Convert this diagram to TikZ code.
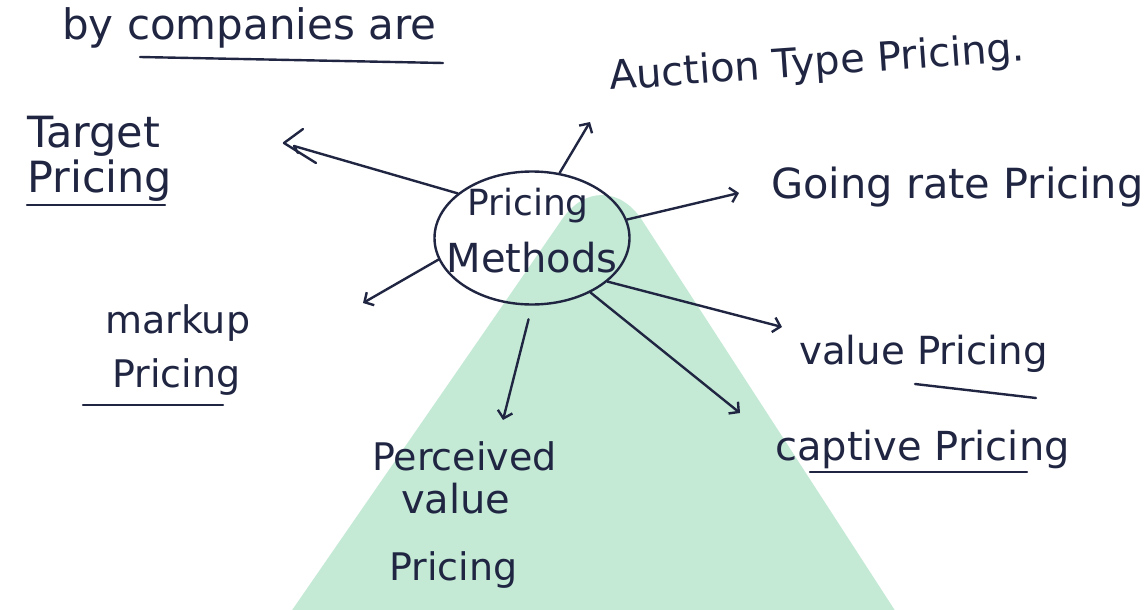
\documentclass[tikz,border=0pt]{standalone}
\usepackage{fontspec}
\setmainfont{DejaVu Sans}
\usetikzlibrary{arrows.meta,shapes.geometric}
\definecolor{inkc}{RGB}{32,38,66}
\definecolor{mint}{RGB}{196,234,214}
\begin{document}
\begin{tikzpicture}[x=1pt,y=-1pt,
  ink/.style={draw=inkc, line width=2.4pt, line cap=round, line join=round},
  arr/.style={ink, -{Straight Barb[length=7pt,width=15pt]}},
  hw/.style={text=inkc, inner sep=0pt, font=\fontsize{#1}{#1}\selectfont}]
\useasboundingbox (0,0) rectangle (1148,610);
\clip (0,0) rectangle (1148,610);
\fill[white] (0,0) rectangle (1148,610);
% green triangle
\fill[mint, rounded corners=72pt] (230,700) -- (603,160) -- (953,700) -- cycle;

% centre
\node[ellipse, ink, minimum width=195pt, minimum height=133pt, inner sep=0pt] (pm) at (532,238) {};
\node[hw=36, anchor=base] (pm1) at (528,215) {Pricing};
\node[hw=40, anchor=base] (pm2) at (532,272) {Methods};

% texts
\node[hw=42, anchor=base west] (byc) at (62,40) {by companies are};
\coordinate (u1) at (140,57); \coordinate (u2) at (443,63);
\draw[ink] (u1) -- (u2);

\node[hw=40, anchor=base west, rotate=4] (auc) at (610,90) {Auction Type Pricing.};
\node[hw=41.5, anchor=base west] (gor) at (771,198) {Going rate Pricing};

\node[hw=43, anchor=base west] (tg1) at (27,147) {Target};
\node[hw=43, anchor=base west] (tg2) at (27,192) {Pricing};
\coordinate (tu1) at (27,205); \coordinate (tu2) at (165,205);
\draw[ink] (tu1) -- (tu2);

\node[hw=38, anchor=base west] (mk1) at (105,333) {markup};
\node[hw=38, anchor=base west] (mk2) at (112,387) {Pricing};
\coordinate (mu1) at (83,405); \coordinate (mu2) at (223,405);
\draw[ink] (mu1) -- (mu2);

\node[hw=38.7, anchor=base west] (val) at (799,364) {value Pricing};
\coordinate (vu1) at (915,384); \coordinate (vu2) at (1036,398);
\draw[ink] (vu1) -- (vu2);

\node[hw=40, anchor=base west] (cap) at (775,460) {captive Pricing};
\coordinate (cu1) at (810,472); \coordinate (cu2) at (1027,472);
\draw[ink] (cu1) -- (cu2);

\node[hw=38, anchor=base west] (pv1) at (372,470) {Perceived};
\node[hw=40, anchor=base west] (pv2) at (401,513) {value};
\node[hw=38, anchor=base west] (pv3) at (389,580) {Pricing};

% open double arrow to Target Pricing
\coordinate (tTip) at (284,143);
\coordinate (tA) at (303,129); \coordinate (tB) at (316,163);
\coordinate (tIn) at (294,146); \coordinate (tHook) at (298,153);
\draw[ink] (pm.149.5) -- (tIn) -- (tHook);
\draw[ink] (tA) -- (tTip) -- (tB);

\coordinate (aTip) at (590,122); \draw[arr] (pm.67.7) -- (aTip);
\coordinate (gTip) at (739,193); \draw[arr] (pm.11.7) -- (gTip);
\coordinate (mTip) at (363,303); \draw[arr] (pm.193.9) -- (mTip);
\coordinate (vTip) at (782,327); \draw[arr] (pm.330.7) -- (vTip);
\coordinate (cTip) at (740,413); \draw[arr] (pm.317.5) -- (cTip);
\coordinate (pTip) at (503,420); \draw[arr, shorten <=14pt] (pm.south) -- (pTip);
\end{tikzpicture}
\end{document}
